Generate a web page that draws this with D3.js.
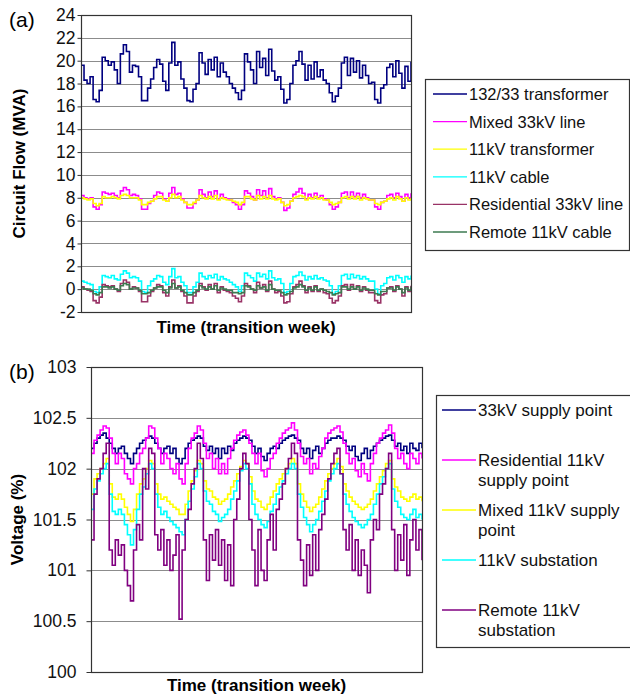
<!DOCTYPE html>
<html>
<head>
<meta charset="utf-8">
<script src="https://d3js.org/d3.v7.min.js"></script>
<style>
  body { margin: 0; background: #fff; }
  text { font-family: "Liberation Sans", Arial, sans-serif; }
</style>
</head>
<body>
<div id="my_dataviz"></div>
<script>

// ---- panel (a): circuit flows (MVA), one value per ~1.5 h over the transition week
var flowTicks = [-2, 0, 2, 4, 6, 8, 10, 12, 14, 16, 18, 20, 22, 24];
var flowNames = ["132/33 transformer", "Mixed 33kV line", "11kV transformer", "11kV cable", "Residential 33kV line", "Remote 11kV cable"];

var transformer132 = [19.6,18.3,18.0,18.6,16.6,16.4,17.4,20.3,20.0,19.6, 19.9,19.2,18.0,20.6,21.4,20.8,19.0,19.6,19.5,18.6,
  16.5,16.5,17.6,18.4,19.4,20.1,19.7,18.2,17.4,19.8, 21.6,19.6,19.9,18.4,17.6,16.5,16.4,17.5,18.0,20.7,
  19.8,18.8,20.1,19.2,20.3,18.6,19.8,19.0,18.6,18.0, 17.6,17.2,16.6,17.4,20.6,19.9,19.2,18.0,20.8,19.4,
  20.2,18.7,21.0,19.1,18.3,18.6,17.5,16.3,16.6,18.0, 19.6,20.0,20.8,19.7,18.3,19.6,18.4,19.9,18.6,19.2,
  18.3,18.0,17.2,16.4,16.9,17.6,19.8,20.3,18.7,20.2, 19.0,20.0,18.5,19.6,18.7,18.0,18.1,16.6,16.3,17.6,
  17.9,19.4,19.7,18.6,20.0,18.9,17.6,19.5,18.2,19.9];
var mixed33 = [8.2,8.0,7.9,8.0,7.2,7.0,7.4,8.5,8.4,8.3, 8.4,8.2,8.0,8.6,8.9,8.7,8.2,8.3,8.2,7.9,
  7.0,7.0,7.5,7.7,8.2,8.5,8.4,7.9,7.7,8.4, 8.9,8.3,8.4,7.9,7.6,7.1,7.1,7.5,7.8,8.7,
  8.3,8.0,8.5,8.1,8.6,7.9,8.3,8.0,7.9,7.8, 7.6,7.4,7.0,7.4,8.6,8.4,8.1,7.8,8.7,8.2,
  8.6,8.0,8.8,8.1,7.9,8.0,7.6,6.9,7.1,7.7, 8.3,8.5,8.8,8.4,7.9,8.3,8.0,8.4,8.0,8.2,
  7.9,7.8,7.4,7.0,7.2,7.6,8.4,8.5,8.0,8.5, 8.1,8.4,8.0,8.3,8.0,7.8,7.8,7.2,7.0,7.6,
  7.7,8.2,8.3,8.0,8.4,8.1,7.7,8.3,8.0,8.4];
var transformer11 = [8.0,7.9,7.8,7.9,7.5,7.3,7.5,8.1,8.0,8.0, 8.1,8.0,7.9,8.2,8.3,8.2,8.0,8.0,8.0,7.8,
  7.4,7.4,7.6,7.7,7.9,8.1,8.1,7.8,7.7,8.0, 8.3,8.0,8.1,7.8,7.6,7.4,7.4,7.6,7.8,8.2,
  8.0,7.9,8.1,7.9,8.2,7.8,8.0,7.9,7.8,7.8, 7.7,7.6,7.4,7.6,8.1,8.1,7.9,7.8,8.2,7.9,
  8.1,7.9,8.2,7.9,7.8,7.9,7.6,7.3,7.4,7.7, 8.0,8.1,8.2,8.1,7.8,8.0,7.9,8.1,7.9,8.0,
  7.8,7.8,7.6,7.4,7.5,7.6,8.0,8.1,7.9,8.1, 7.9,8.1,7.8,8.0,7.9,7.8,7.8,7.5,7.4,7.6,
  7.7,7.9,8.0,7.8,8.1,7.9,7.7,8.0,7.8,8.0];
var cable11 = [0.7,0.6,0.5,0.4,-0.2,-0.3,0.2,1.2,1.1,1.0, 1.2,0.9,0.8,1.3,1.6,1.4,1.0,1.1,1.0,0.7,
  -0.2,-0.3,0.3,0.7,0.9,1.2,1.1,0.6,0.4,1.1, 1.8,1.0,1.1,0.6,0.3,-0.3,-0.3,0.2,0.6,1.4,
  1.1,0.9,1.2,1.0,1.3,0.8,1.1,0.9,0.8,0.6, 0.4,0.2,-0.2,0.3,1.4,1.2,1.0,0.7,1.4,1.1,
  1.3,0.9,1.6,1.0,0.8,0.9,0.5,-0.3,-0.2,0.5, 1.1,1.2,1.5,1.2,0.8,1.1,0.9,1.2,0.9,1.0,
  0.8,0.7,0.3,-0.4,-0.2,0.3,1.2,1.3,0.9,1.3, 1.0,1.2,0.9,1.1,0.9,0.7,0.7,0.0,-0.4,0.3,
  0.5,1.0,1.1,0.8,1.2,1.0,0.6,1.1,0.9,1.2];
var residential33 = [0.2,0.0,-0.1,-0.2,-1.0,-1.2,-0.7,0.4,0.3,0.2, 0.3,0.0,-0.2,0.5,0.8,0.6,0.0,0.2,0.1,-0.2,
  -1.1,-1.1,-0.6,-0.2,0.1,0.4,0.3,-0.3,-0.6,0.2, 0.8,0.1,0.3,-0.2,-0.6,-1.2,-1.2,-0.6,-0.2,0.5,
  0.2,-0.1,0.4,0.0,0.5,-0.3,0.2,-0.1,-0.2,-0.3, -0.6,-0.8,-1.1,-0.6,0.5,0.3,0.0,-0.3,0.6,0.1,
  0.4,-0.2,0.7,0.0,-0.3,-0.2,-0.6,-1.2,-1.1,-0.4, 0.2,0.4,0.7,0.3,-0.3,0.2,-0.2,0.3,-0.2,0.0,
  -0.3,-0.4,-0.8,-1.2,-1.0,-0.6,0.3,0.4,-0.1,0.4, 0.0,0.3,-0.2,0.2,-0.1,-0.3,-0.3,-1.0,-1.2,-0.5,
  -0.4,0.1,0.2,-0.2,0.3,0.0,-0.6,0.2,-0.2,0.3];
var remoteCable11 = [0.1,0.0,0.0,-0.1,-0.4,-0.5,-0.3,0.2,0.2,0.1, 0.2,0.0,-0.1,0.3,0.5,0.4,0.0,0.1,0.1,-0.1,
  -0.4,-0.4,-0.3,-0.1,0.1,0.2,0.2,-0.1,-0.3,0.1, 0.5,0.1,0.2,-0.1,-0.3,-0.5,-0.5,-0.3,-0.1,0.3,
  0.1,0.0,0.2,0.0,0.3,-0.1,0.1,0.0,-0.1,-0.1, -0.3,-0.3,-0.4,-0.3,0.3,0.2,0.0,-0.1,0.3,0.1,
  0.2,-0.1,0.4,0.0,-0.1,-0.1,-0.3,-0.5,-0.4,-0.2, 0.1,0.2,0.4,0.2,-0.1,0.1,-0.1,0.2,-0.1,0.0,
  -0.1,-0.2,-0.3,-0.5,-0.4,-0.3,0.2,0.2,0.0,0.2, 0.0,0.2,-0.1,0.1,0.0,-0.1,-0.1,-0.4,-0.5,-0.2,
  -0.2,0.1,0.1,-0.1,0.2,0.0,-0.3,0.1,-0.1,0.2];

// ---- panel (b): voltages (%)
var voltTicks = [100, 100.5, 101, 101.5, 102, 102.5, 103];
var voltNames = [["33kV supply point"], ["Residential 11kV", "supply point"], ["Mixed 11kV supply", "point"], ["11kV substation"], ["Remote 11kV", "substation"]];

var supply33 = [102.2,102.25,102.3,102.33,102.35,102.3,102.25,102.2,102.15,102.2, 102.22,102.15,102.1,102.05,102.15,102.2,102.25,102.28,102.3,102.32,
  102.3,102.25,102.2,102.15,102.2,102.22,102.15,102.2,102.1,102.05, 102.1,102.2,102.25,102.28,102.3,102.32,102.3,102.22,102.18,102.22,
  102.15,102.2,102.1,102.2,102.15,102.22,102.18,102.25,102.28,102.3, 102.32,102.3,102.28,102.22,102.15,102.2,102.12,102.08,102.15,102.2,
  102.22,102.2,102.25,102.28,102.3,102.32,102.33,102.3,102.28,102.2, 102.15,102.2,102.1,102.18,102.22,102.15,102.2,102.25,102.28,102.3,
  102.3,102.32,102.3,102.28,102.22,102.18,102.22,102.12,102.08,102.15, 102.2,102.1,102.18,102.22,102.25,102.28,102.3,102.32,102.33,102.28,
  102.22,102.25,102.18,102.22,102.15,102.25,102.2,102.18,102.25,102.2];
var residentialSupply11 = [102.15,102.28,102.33,102.38,102.42,102.4,102.3,102.15,102.05,102.15, 102.1,101.95,101.9,101.85,102.0,102.05,102.15,102.2,102.3,102.42,
  102.4,102.3,102.2,102.05,102.15,102.1,102.0,101.95,102.05,101.9, 101.85,102.05,102.2,102.3,102.35,102.42,102.38,102.25,102.1,102.15,
  102.0,102.1,101.95,102.05,101.95,102.1,102.2,102.28,102.33,102.36, 102.38,102.33,102.25,102.15,102.05,102.15,101.98,101.92,102.0,102.1,
  102.15,102.25,102.3,102.35,102.38,102.4,102.45,102.38,102.25,102.12, 102.05,102.1,101.95,102.05,102.0,102.12,102.2,102.3,102.35,102.38,
  102.4,102.42,102.36,102.25,102.15,102.05,102.1,101.98,101.92,102.05, 101.95,101.88,102.05,102.15,102.25,102.3,102.35,102.38,102.43,102.35,
  102.2,102.1,102.15,102.05,102.0,102.15,102.1,102.05,102.15,102.1];
var mixedSupply11 = [101.75,101.9,101.95,102.0,102.05,102.1,101.85,101.72,101.7,101.75, 101.7,101.62,101.55,101.48,101.6,101.75,101.85,101.9,102.0,102.08,
  102.05,101.85,101.75,101.7,101.72,101.68,101.65,101.62,101.6,101.55, 101.55,101.65,101.78,101.88,101.98,102.08,102.05,101.88,101.8,101.78,
  101.72,101.7,101.65,101.68,101.7,101.75,101.82,101.88,101.95,102.02, 102.08,102.05,101.92,101.78,101.7,101.68,101.62,101.6,101.65,101.72,
  101.78,101.85,101.9,101.95,102.0,102.05,102.1,102.05,101.85,101.75, 101.68,101.62,101.58,101.62,101.65,101.72,101.8,101.88,101.95,102.0,
  102.05,102.1,102.02,101.85,101.78,101.72,101.68,101.65,101.62,101.6, 101.62,101.65,101.7,101.78,101.85,101.92,101.98,102.05,102.08,101.9,
  101.82,101.78,101.72,101.7,101.68,101.72,101.75,101.7,101.72,101.68];
var substation11 = [101.6,101.8,101.88,101.95,102.0,102.05,101.75,101.58,101.55,101.6, 101.55,101.45,101.35,101.25,101.4,101.6,101.75,101.82,101.95,102.05,
  102.0,101.75,101.62,101.55,101.58,101.52,101.48,101.45,101.42,101.38, 101.35,101.5,101.68,101.8,101.92,102.05,102.0,101.78,101.68,101.65,
  101.58,101.55,101.48,101.52,101.55,101.6,101.7,101.78,101.88,101.98, 102.05,102.0,101.85,101.65,101.55,101.5,101.45,101.42,101.48,101.58,
  101.65,101.75,101.82,101.88,101.95,102.0,102.05,102.0,101.75,101.62, 101.52,101.45,101.38,101.45,101.5,101.58,101.68,101.78,101.88,101.95,
  102.0,102.05,101.95,101.75,101.65,101.58,101.52,101.48,101.45,101.42, 101.45,101.5,101.55,101.65,101.75,101.85,101.92,102.0,102.05,101.8,
  101.68,101.62,101.55,101.52,101.5,101.55,101.6,101.52,101.55,101.5];
var remoteSubstation11 = [101.3,101.75,101.9,102.0,102.15,102.25,101.2,101.05,101.3,101.15, 101.25,101.0,100.85,100.7,101.2,101.45,101.3,102.0,101.8,102.2,
  102.15,101.35,101.2,101.4,101.05,101.3,101.0,101.15,101.35,100.52, 101.2,101.5,101.6,101.85,102.0,102.25,102.1,101.3,100.9,101.35,
  101.1,101.4,101.05,101.3,100.9,101.25,100.85,101.5,101.7,102.0, 102.15,102.05,101.5,101.2,100.85,101.4,101.0,100.9,101.3,101.55,
  101.2,101.6,101.7,101.85,102.0,102.1,102.25,102.15,101.3,101.1, 100.85,101.25,100.95,101.35,101.0,101.4,101.55,101.7,101.9,102.05,
  102.15,102.2,101.95,101.4,101.2,101.45,101.0,101.3,100.95,101.2, 101.05,100.78,101.3,101.5,101.4,101.75,101.85,102.0,102.15,101.4,
  101.0,101.35,101.1,101.45,100.95,101.3,101.5,101.2,101.4,101.1];

var svg = d3.select("#my_dataviz")
  .append("svg")
  .attr("width", 630)
  .attr("height", 695)
  .style("background", "#fff");

// draws one framed line panel with gridlines and a left axis
function drawPanel(p) {
  var n = p.series[0].length;
  var x = d3.scaleLinear().domain([0, n - 1]).range([p.left, p.right]);
  var y = d3.scaleLinear().domain(d3.extent(p.ticks)).range([p.bottom, p.top]);

  svg.append("g").selectAll("line")
    .data(p.ticks)
    .enter().append("line")
    .attr("x1", p.left).attr("x2", p.right)
    .attr("y1", function(d) { return Math.round(y(d)) + 0.5; })
    .attr("y2", function(d) { return Math.round(y(d)) + 0.5; })
    .style("stroke", "#8c8c8c")
    .style("stroke-width", 1);

  var ax = svg.append("g")
    .attr("transform", "translate(" + (p.left + 0.5) + ",0)")
    .call(d3.axisLeft(y).tickValues(p.ticks).tickSize(p.tickSize).tickPadding(p.tickPad).tickFormat(function(d) { return String(d); }));
  ax.select(".domain").remove();
  ax.selectAll("text").style("font-size", "17.5px").style("fill", "#111");
  ax.selectAll("line").style("stroke", "#333");

  var line = d3.line()
    .x(function(d, i) { return x(i); })
    .y(function(d) { return y(d); })
    .curve(d3.curveStepAfter);

  p.series.forEach(function(s, k) {
    svg.append("path")
      .datum(s)
      .attr("d", line)
      .style("fill", "none")
      .style("stroke", p.colors[k])
      .style("stroke-width", 1.6);
  });

  // frame
  svg.append("rect")
    .attr("x", p.left + 0.5).attr("y", Math.round(p.top) + 0.5)
    .attr("width", p.right - p.left).attr("height", Math.round(p.bottom) - Math.round(p.top))
    .style("fill", "none")
    .style("stroke", "#333")
    .style("stroke-width", 1.2);

  svg.append("text")
    .attr("x", 9).attr("y", p.top + 12)
    .style("font-size", "21px")
    .text(p.tag);

  svg.append("text")
    .attr("transform", "translate(" + p.yTitleX + "," + ((p.top + p.bottom) / 2) + ") rotate(-90)")
    .attr("text-anchor", "middle")
    .style("font-size", "17px")
    .style("font-weight", "bold")
    .text(p.yTitle);

  svg.append("text")
    .attr("x", (p.left + p.right) / 2)
    .attr("y", p.xTitleY)
    .attr("text-anchor", "middle")
    .style("font-size", "17px")
    .style("font-weight", "bold")
    .text("Time (transition week)");
}

// legend box with coloured line keys, labels may wrap to several lines
function drawLegend(l) {
  svg.append("rect")
    .attr("x", l.x + 0.5).attr("y", l.y + 0.5)
    .attr("width", l.w).attr("height", l.h)
    .style("fill", "#fff")
    .style("stroke", "#333")
    .style("stroke-width", 1.2);

  l.labels.forEach(function(lab, i) {
    var cy = l.firstY + i * l.step;
    svg.append("line")
      .attr("x1", l.lineX0).attr("x2", l.lineX1)
      .attr("y1", cy).attr("y2", cy)
      .style("stroke", l.colors[i])
      .style("stroke-width", 1.3);
    var lines = Array.isArray(lab) ? lab : [lab];
    lines.forEach(function(t, j) {
      svg.append("text")
        .attr("x", l.lineX1 + 2)
        .attr("y", cy + 6 + j * 20)
        .style("font-size", l.fontSize)
        .style("fill", "#111")
        .text(t);
    });
  });
}

var flowColors = ["#000080", "#ff00ff", "#ffff00", "#00ffff", "#993366", "#3c7a50"];
var voltColors = ["#000080", "#ff00ff", "#ffff00", "#00ffff", "#800080"];

drawPanel({
  tag: "(a)", left: 81, right: 411, top: 15, bottom: 312,
  ticks: flowTicks, tickSize: 4, tickPad: 2,
  series: [transformer132, mixed33, transformer11, cable11, residential33, remoteCable11],
  colors: flowColors,
  yTitle: "Circuit Flow (MVA)", yTitleX: 25, xTitleY: 333
});

drawLegend({
  x: 425, y: 79, w: 204, h: 171,
  firstY: 94, step: 27.6, lineX0: 433, lineX1: 467, fontSize: "16.5px",
  labels: flowNames, colors: flowColors
});

drawPanel({
  tag: "(b)", left: 91, right: 422, top: 367, bottom: 672,
  ticks: voltTicks, tickSize: 5, tickPad: 10,
  series: [supply33, residentialSupply11, mixedSupply11, substation11, remoteSubstation11],
  colors: voltColors,
  yTitle: "Voltage (%)", yTitleX: 23, xTitleY: 691
});

drawLegend({
  x: 436, y: 395, w: 200, h: 252,
  firstY: 410, step: 50, lineX0: 442, lineX1: 476, fontSize: "17px",
  labels: voltNames, colors: voltColors
});

</script>
</body>
</html>
